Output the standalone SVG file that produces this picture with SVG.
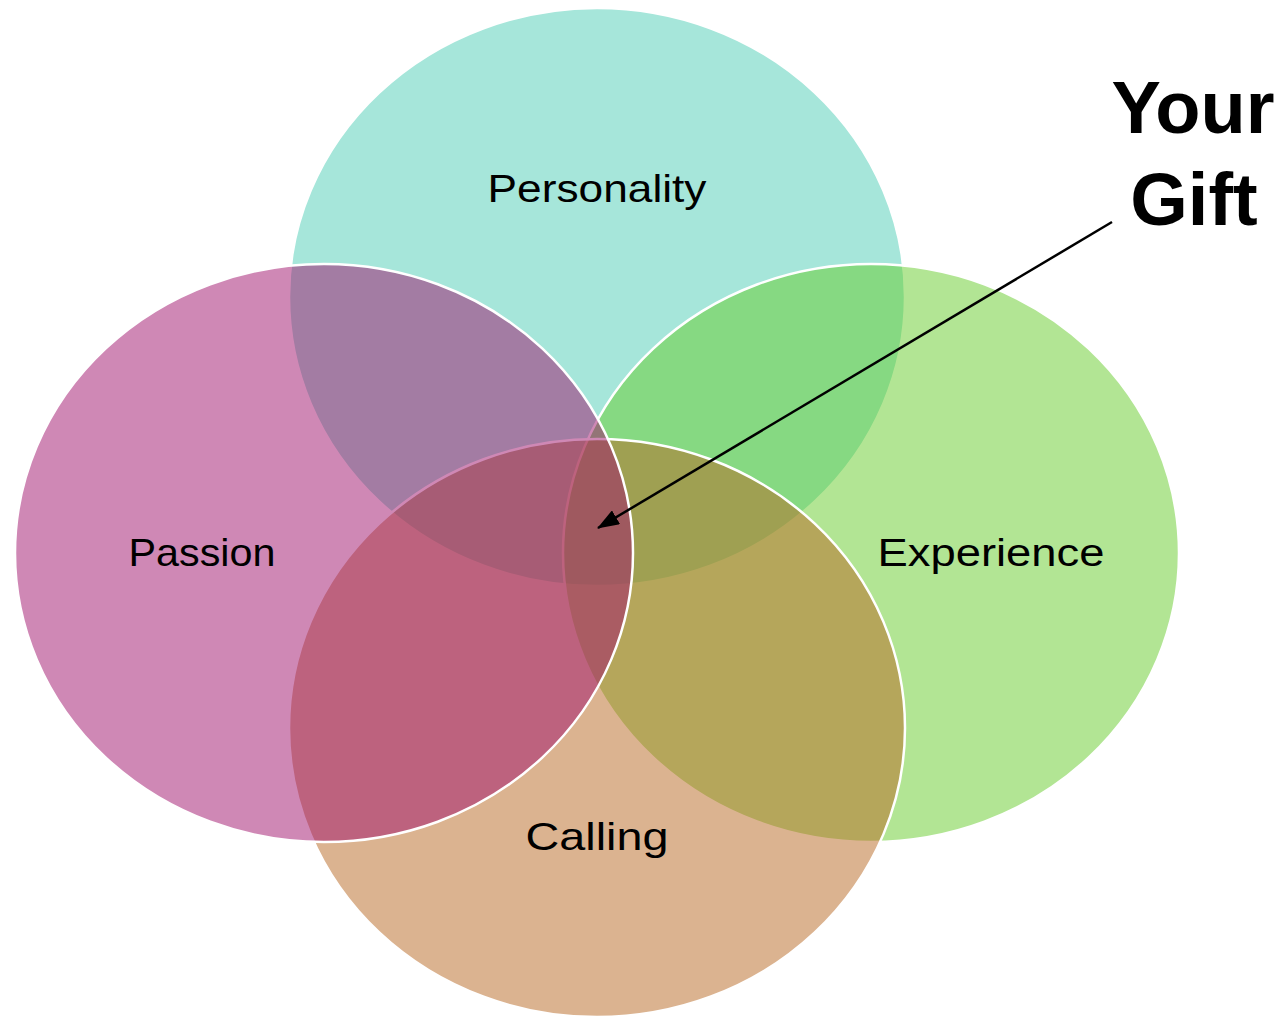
<svg xmlns="http://www.w3.org/2000/svg" width="1286" height="1018" viewBox="0 0 1286 1018">
<style>
.c{stroke:#ffffff;stroke-width:2.5;}
.lbl{font-family:"Liberation Sans","DejaVu Sans",sans-serif;font-size:39px;fill:#000;text-anchor:middle;}
.big{font-family:"Liberation Sans",Arial,sans-serif;font-weight:bold;font-size:74px;fill:#000;text-anchor:middle;}
</style>
<defs>
<marker id="ah" markerWidth="22" markerHeight="16" refX="21" refY="8" orient="auto" markerUnits="userSpaceOnUse" viewBox="0 0 22 16">
<path d="M0,0 L22,8 L0,16 Z" fill="#000"/>
</marker>
</defs>
<rect width="1286" height="1018" fill="#fff"/>
<g id="personality"><ellipse class="c" cx="597" cy="297" rx="308" ry="289" fill="rgba(77,205,181,0.5)"/></g>
<g id="experience"><ellipse class="c" cx="871" cy="553" rx="308" ry="289" fill="rgba(101,203,41,0.5)"/></g>
<g id="calling"><ellipse class="c" cx="597" cy="728" rx="308" ry="289" fill="rgba(183,103,33,0.5)"/></g>
<g id="passion"><ellipse class="c" cx="324" cy="553" rx="309" ry="289" fill="rgba(159,17,107,0.5)"/></g>
<g id="labels">
<text class="lbl" x="597" y="202" textLength="219" lengthAdjust="spacingAndGlyphs">Personality</text>
<text class="lbl" x="202" y="566" textLength="147" lengthAdjust="spacingAndGlyphs">Passion</text>
<text class="lbl" x="991" y="566" textLength="227" lengthAdjust="spacingAndGlyphs">Experience</text>
<text class="lbl" x="597" y="850" textLength="143" lengthAdjust="spacingAndGlyphs">Calling</text>
</g>
<g id="your-gift">
<text class="big" x="1193" y="133">Your</text>
<text class="big" x="1194" y="225">Gift</text>
</g>
<g id="connectors">
<line x1="1112" y1="222" x2="598" y2="528" stroke="#000" stroke-width="2.5" marker-end="url(#ah)"/>
</g>
</svg>
